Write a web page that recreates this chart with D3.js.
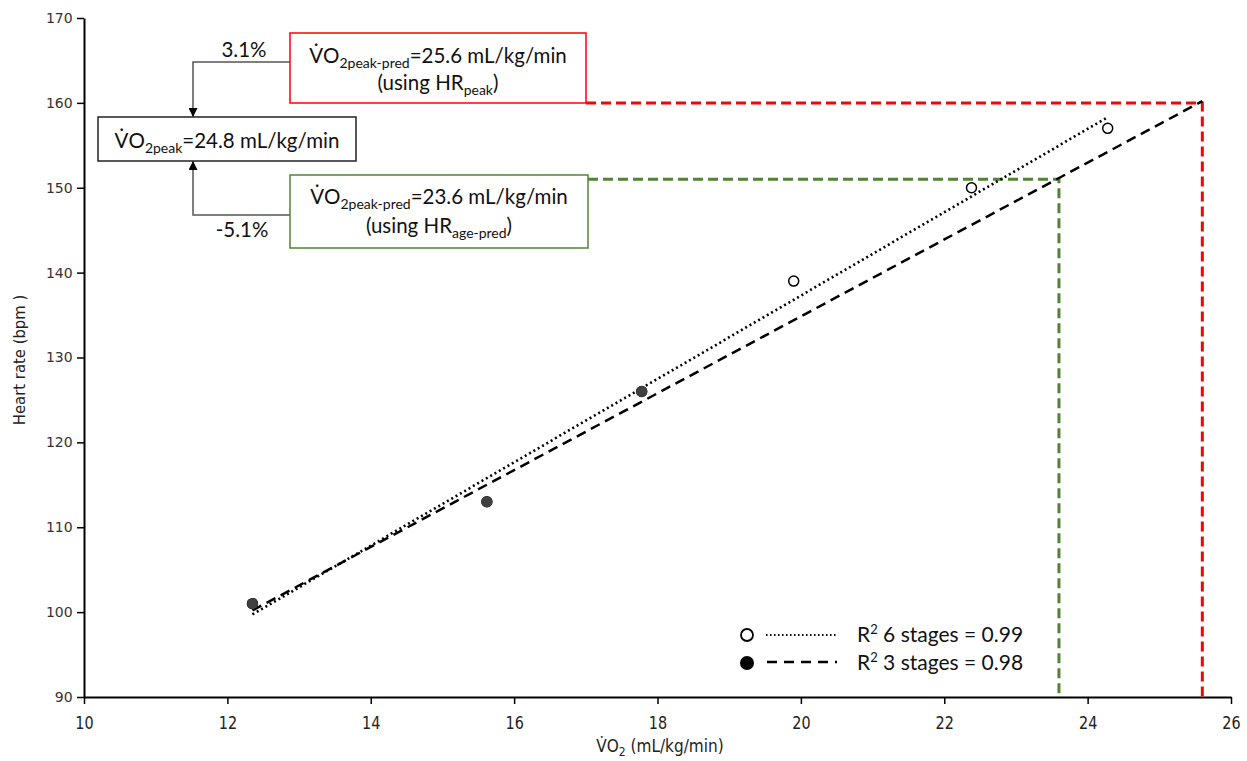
<!DOCTYPE html>
<html>
<head>
<meta charset="utf-8">
<script src="https://cdn.jsdelivr.net/npm/d3@7"></script>
<style>
  body { margin: 0; background: #fff; }
  svg { display: block; }
</style>
</head>
<body>
<svg id="chart" width="1247" height="761"></svg>
<script>
// six-stage test points (open) and three-stage test points (filled)
var vo2Six = [12.35, 15.62, 17.78, 19.9, 22.38, 24.28];
var hrSix = [101, 113, 126, 139, 150, 157];
var vo2Three = [12.35, 15.62, 17.78];
var hrThree = [101, 113, 126];

var hrPeak = 160, hrAgePred = 151;
var vo2PredPeak = 25.6, vo2PredAge = 23.6;

var xTicks = [10, 12, 14, 16, 18, 20, 22, 24, 26];
var yTicks = [90, 100, 110, 120, 130, 140, 150, 160, 170];

var legendLabels = ["6 stages = 0.99", "3 stages = 0.98"];

var svg = d3.select("#chart");
var x = d3.scaleLinear().domain([10, 26]).range([84, 1231]);
var y = d3.scaleLinear().domain([90, 170]).range([697, 18]);

var green = "#548235", red = "#ff0000";
var annoFont = "Lato, 'Open Sans', sans-serif";
var narrow = "'Liberation Sans Narrow', 'DejaVu Sans Condensed', sans-serif";

// least squares fit
function fit(xs, ys) {
  var mx = d3.mean(xs), my = d3.mean(ys);
  var sxy = d3.sum(xs, function(v, i){ return (v - mx) * (ys[i] - my) });
  var sxx = d3.sum(xs, function(v){ return (v - mx) * (v - mx) });
  var b = sxy / sxx;
  return function(v){ return my + b * (v - mx) };
}
var fitSix = fit(vo2Six, hrSix);
var fitThree = fit(vo2Three, hrThree);

// axes
var xAxis = d3.axisBottom(x).tickValues(xTicks).tickSize(7).tickSizeOuter(0);
var yAxis = d3.axisLeft(y).tickValues(yTicks).tickSize(7).tickSizeOuter(0);

var gx = svg.append("g").attr("transform", "translate(0,697)").call(xAxis);
gx.selectAll("text").attr("font-family", narrow).attr("font-size", 16).attr("fill", "#222")
  .attr("dy", "1.1em").attr("transform", "scale(1,1.15)");
var gy = svg.append("g").attr("transform", "translate(84,0)").call(yAxis);
gy.selectAll("text").attr("font-family", "'DejaVu Sans', sans-serif").attr("font-size", 14).attr("fill", "#333").attr("dx", "-0.1em");
svg.selectAll(".domain").attr("stroke", "#000").attr("stroke-width", 2);
svg.selectAll(".tick line").attr("stroke", "#000").attr("stroke-width", 1.5);

svg.append("text")
  .attr("transform", "translate(25,360) rotate(-90)")
  .attr("text-anchor", "middle")
  .attr("font-family", narrow).attr("font-size", 16.5).attr("fill", "#222")
  .text("Heart rate (bpm )");

var xt = svg.append("text")
  .attr("x", 660).attr("y", 752)
  .attr("text-anchor", "middle")
  .attr("font-family", narrow).attr("font-size", 17).attr("fill", "#222");
xt.append("tspan").text("V\u0307O");
xt.append("tspan").attr("font-size", 12).attr("dy", 4).text("2");
xt.append("tspan").attr("dy", -4).text(" (mL/kg/min)");

// reference lines to predicted values
var refs = [
  {hr: hrPeak, vo2: vo2PredPeak, color: red, x0: 586},
  {hr: hrAgePred, vo2: vo2PredAge, color: green, x0: 588}
];
refs.forEach(function(r){
  svg.append("path")
    .attr("d", "M" + r.x0 + "," + y(r.hr) + "H" + x(r.vo2) + "V" + y(90))
    .attr("fill", "none").attr("stroke", r.color)
    .attr("stroke-width", 3).attr("stroke-dasharray", "10,5");
});

// trend lines
svg.append("line")
  .attr("x1", x(vo2Six[0])).attr("y1", y(fitSix(vo2Six[0])))
  .attr("x2", x(vo2Six[5])).attr("y2", y(fitSix(vo2Six[5])))
  .attr("stroke", "#000").attr("stroke-width", 2.6).attr("stroke-dasharray", "2,3")
  .attr("stroke-linecap", "butt");
svg.append("line")
  .attr("x1", x(vo2Three[0])).attr("y1", y(fitThree(vo2Three[0])))
  .attr("x2", x(vo2PredPeak)).attr("y2", y(fitThree(vo2PredPeak)))
  .attr("stroke", "#000").attr("stroke-width", 2.5).attr("stroke-dasharray", "10,6");

// points
svg.selectAll(".open").data(vo2Six).enter().append("circle")
  .attr("cx", function(d){ return x(d) })
  .attr("cy", function(d, i){ return y(hrSix[i]) })
  .attr("r", 5).attr("fill", "#fff").attr("stroke", "#000").attr("stroke-width", 1.5);
svg.selectAll(".filled").data(vo2Three).enter().append("circle")
  .attr("cx", function(d){ return x(d) })
  .attr("cy", function(d, i){ return y(hrThree[i]) })
  .attr("r", 5.5).attr("fill", "#404040");

// legend
var lg = svg.append("g").attr("font-family", annoFont).attr("font-size", 21).attr("fill", "#111");
lg.append("circle").attr("cx", 747).attr("cy", 635).attr("r", 6).attr("fill", "#fff").attr("stroke", "#000").attr("stroke-width", 1.8);
lg.append("circle").attr("cx", 747).attr("cy", 663).attr("r", 7).attr("fill", "#000");
lg.append("line").attr("x1", 766).attr("x2", 837).attr("y1", 635).attr("y2", 635)
  .attr("stroke", "#000").attr("stroke-width", 2).attr("stroke-dasharray", "1.5,2.5");
lg.append("line").attr("x1", 767).attr("x2", 837).attr("y1", 662).attr("y2", 662)
  .attr("stroke", "#000").attr("stroke-width", 2.5).attr("stroke-dasharray", "10,7");
legendLabels.forEach(function(l, i){
  var t = lg.append("text").attr("x", 857).attr("y", 642 + i * 28);
  t.append("tspan").text("R");
  t.append("tspan").attr("font-size", 13).attr("dy", -8).text("2");
  t.append("tspan").attr("dy", 8).text(" " + l);
});

// annotation boxes
var boxes = [
  {x: 290, y: 33, w: 296, h: 70, color: red, val: "25.6", sub: "peak", l1: 63, l2: 90},
  {x: 290, y: 175, w: 298, h: 73, color: green, val: "23.6", sub: "age-pred", l1: 204, l2: 233}
];

// connectors with arrows
svg.append("defs").append("marker")
  .attr("id", "arr").attr("viewBox", "0 0 10 10").attr("refX", 10).attr("refY", 5)
  .attr("markerWidth", 9).attr("markerHeight", 9).attr("markerUnits", "userSpaceOnUse")
  .attr("orient", "auto")
  .append("path").attr("d", "M0,0L10,5L0,10Z").attr("fill", "#000");
svg.append("path").attr("d", "M290,62H193V117").attr("fill", "none")
  .attr("stroke", "#555").attr("stroke-width", 1.5).attr("marker-end", "url(#arr)");
svg.append("path").attr("d", "M290,215H193V161").attr("fill", "none")
  .attr("stroke", "#555").attr("stroke-width", 1.5).attr("marker-end", "url(#arr)");

var an = svg.append("g").attr("font-family", annoFont).attr("font-size", 20.5).attr("fill", "#111");
an.append("text").attr("x", 244).attr("y", 57).attr("text-anchor", "middle").text("3.1%");
an.append("text").attr("x", 242).attr("y", 237).attr("text-anchor", "middle").text("-5.1%");

boxes.forEach(function(b){
  an.append("rect").attr("x", b.x).attr("y", b.y).attr("width", b.w).attr("height", b.h)
    .attr("fill", "#fff").attr("stroke", b.color).attr("stroke-width", 1.5);
  var cx = b.x + b.w / 2;
  var t1 = an.append("text").attr("x", cx).attr("y", b.l1).attr("text-anchor", "middle");
  t1.append("tspan").text("V\u0307O");
  t1.append("tspan").attr("font-size", 14).attr("dy", 5).text("2peak-pred");
  t1.append("tspan").attr("dy", -5).text("=" + b.val + " mL/kg/min");
  var t2 = an.append("text").attr("x", cx).attr("y", b.l2).attr("text-anchor", "middle");
  t2.append("tspan").text("(using HR");
  t2.append("tspan").attr("font-size", 14).attr("dy", 5).text(b.sub);
  t2.append("tspan").attr("dy", -5).text(")");
});

an.append("rect").attr("x", 98).attr("y", 117).attr("width", 258).attr("height", 44)
  .attr("fill", "#fff").attr("stroke", "#222").attr("stroke-width", 1.5);
var t3 = an.append("text").attr("x", 227).attr("y", 148).attr("text-anchor", "middle");
t3.append("tspan").text("V\u0307O");
t3.append("tspan").attr("font-size", 14).attr("dy", 5).text("2peak");
t3.append("tspan").attr("dy", -5).text("=24.8 mL/kg/min");
</script>
</body>
</html>
